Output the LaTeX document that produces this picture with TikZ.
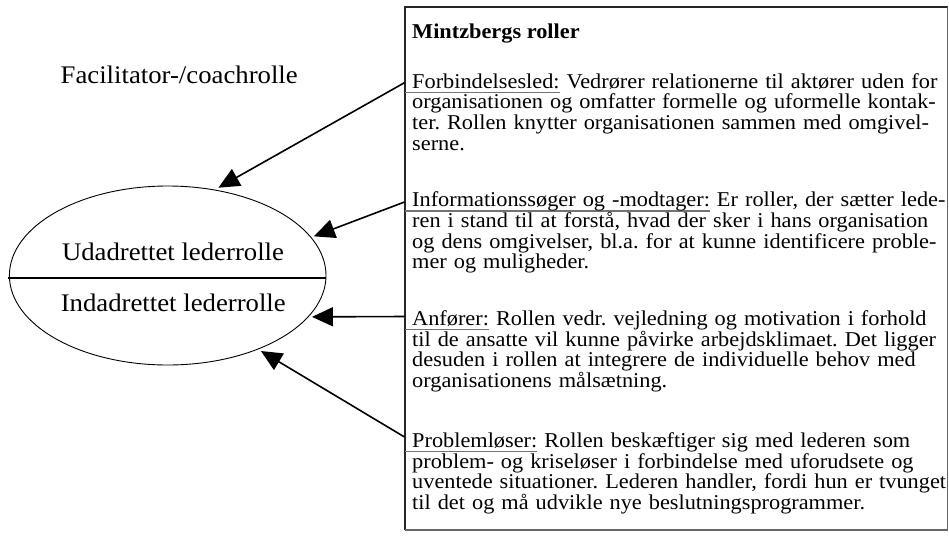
\documentclass[tikz,border=0pt]{standalone}
\usepackage{fontspec}
\setmainfont{Liberation Serif}[FakeStretch=1.057]
\usetikzlibrary{arrows.meta,shapes.geometric}
\setlength\lineskiplimit{-20pt}

% role heading with a grey rule underneath, starting at the panel edge
\newcommand\headul[1]{%
  \setbox0\hbox{#1}%
  \rlap{\kern-7pt\color{black!55}\rule[-4.8pt]{\dimexpr\wd0+7pt\relax}{1.1pt}}%
  \box0\relax}

\tikzset{
  bodytext/.style={anchor=base west, inner sep=0pt, text width=580pt, align=left,
                   font=\fontsize{21.1}{20.7}\selectfont\frenchspacing},
  titletext/.style={anchor=base west, inner sep=0pt,
                   font=\fontsize{21.1}{20.7}\selectfont\bfseries},
  roletext/.style={anchor=base, inner sep=0pt, font=\fontsize{25.3}{28}\selectfont},
  link/.style={line width=1.6pt, -{Triangle[length=21pt,width=19pt]}},
}

\begin{document}
\begin{tikzpicture}[x=1pt, y=-1pt]
\useasboundingbox (0,0) rectangle (949,536);

% left: the two leadership roles inside one ellipse
\node[draw, ellipse, line width=0.9pt, minimum width=316.6pt, minimum height=179pt,
      inner sep=0pt, outer sep=3pt] (role) at (167.7,275.5) {};
\draw[line width=1.6pt] ([xshift=2pt,yshift=-2.5pt]role.west) -- ([xshift=-3pt,yshift=-2.5pt]role.east);
\node[roletext] (outward) at (173,260) {Udadrettet lederrolle};
\node[roletext] (inward) at (173.3,311.7) {Indadrettet lederrolle};
\node[roletext] (facil) at (179.2,83.3) {Facilitator-/coachrolle};

% right: panel with Mintzberg's roles
\coordinate (nw) at (404.5,6.5);
\coordinate (ne) at (947.5,6.5);
\coordinate (se) at (947.5,530);
\coordinate (sw) at (404.5,530);
\draw[line width=2pt, black!85] (sw) -- (nw) -- (ne);
\draw[line width=1.2pt, black!60] (ne) -- (se) -- (sw);

\node[titletext] (title) at (412,38) {Mintzbergs roller};
\node[bodytext] (p1) at (412,88) {\headul{Forbindelsesled:} Vedrører relationerne til aktører uden for\\
organisationen og omfatter formelle og uformelle kontak-\\
ter. Rollen knytter organisationen sammen med omgivel-\\
serne.};
\node[bodytext] (p2) at (412,206.7) {\headul{Informationssøger og -modtager:} Er roller, der sætter lede-\\
ren i stand til at forstå, hvad der sker i hans organisation\\
og dens omgivelser, bl.a. for at kunne identificere proble-\\
mer og muligheder.};
\node[bodytext] (p3) at (412,325.5) {\headul{Anfører:} Rollen vedr. vejledning og motivation i forhold\\
til de ansatte vil kunne påvirke arbejdsklimaet. Det ligger\\
desuden i rollen at integrere de individuelle behov med\\
organisationens målsætning.};
\node[bodytext] (p4) at (412,447.3) {\headul{Problemløser:} Rollen beskæftiger sig med lederen som\\
problem- og kriseløser i forbindelse med uforudsete og\\
uventede situationer. Lederen handler, fordi hun er tvunget\\
til det og må udvikle nye beslutningsprogrammer.};

% arrows from the panel edge to the ellipse
\coordinate (t1) at (404.5,82.7);
\coordinate (t2) at (404.5,202);
\coordinate (t3) at (404.5,316.5);
\coordinate (t4) at (404.5,437);
\draw[link] (t1) -- (role.60.3);
\draw[link] (t2) -- (role.15.4);
\draw[link] (t3) -- (role.-16.1);
\draw[link] (t4) -- (role.-39.7);
\end{tikzpicture}
\end{document}
